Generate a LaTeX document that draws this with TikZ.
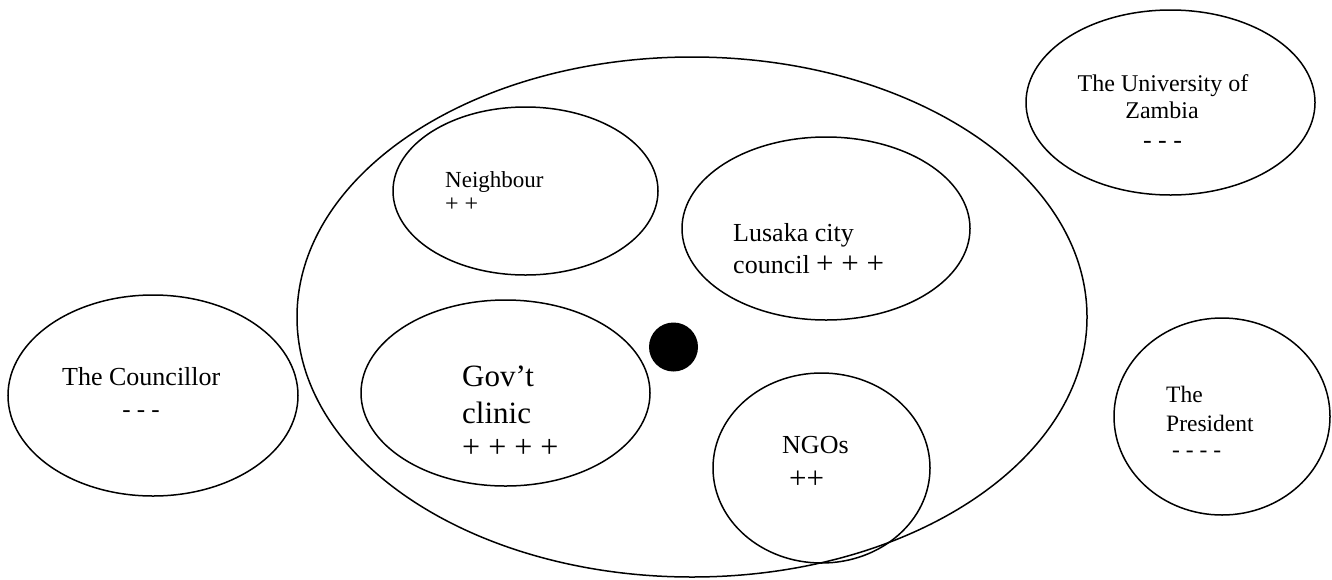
\documentclass[tikz,border=0pt]{standalone}
\usepackage{fontspec}
\setmainfont{Liberation Serif}
\usetikzlibrary{shapes.geometric}
\begin{document}
\begin{tikzpicture}[x=1pt,y=-1pt,
  ell/.style={draw, ellipse, line width=1.5pt, inner sep=0pt},
  lbl/.style={anchor=base west, inner sep=0pt},
  lblc/.style={anchor=base, inner sep=0pt}]
\useasboundingbox (0,0) rectangle (1332,579);
% ellipses
\node[ell, minimum width=790pt, minimum height=520pt] (outer) at (692,317) {};
\node[ell, minimum width=265pt, minimum height=168pt] (neigh) at (525.5,191) {};
\node[ell, minimum width=288pt, minimum height=183pt] (lcc) at (826,228.5) {};
\node[ell, minimum width=289pt, minimum height=186pt] (gov) at (505.5,393) {};
\node[ell, minimum width=217pt, minimum height=190pt] (ngo) at (821.5,468) {};
\node[ell, minimum width=289pt, minimum height=185pt] (unza) at (1170.5,102.5) {};
\node[ell, minimum width=216pt, minimum height=197pt] (pres) at (1222,416.5) {};
\node[ell, minimum width=290pt, minimum height=201pt] (coun) at (153,395.5) {};
\node[circle, fill=black, minimum size=49pt, inner sep=0pt] (ego) at (673.5,347) {};
% labels
\node[lbl, font=\fontsize{23}{27}\selectfont] (neighA) at (445,187) {Neighbour};
\node[lbl, font=\fontsize{24}{27}\selectfont] (neighB) at (445,211) {+ +};
\node[lbl, font=\fontsize{26}{30}\selectfont] (lccA) at (733,241) {Lusaka city};
\node[lbl, font=\fontsize{26}{30}\selectfont] (lccB) at (733,273) {council {\fontsize{31}{34}\selectfont + + +}};
\node[lbl, font=\fontsize{31}{36}\selectfont] (govA) at (462,386) {Gov’t};
\node[lbl, font=\fontsize{31}{36}\selectfont] (govB) at (462,423) {clinic};
\node[lbl, font=\fontsize{32}{36}\selectfont] (govC) at (462,457) {+ + + +};
\node[lbl, font=\fontsize{26}{30}\selectfont] (ngoA) at (782,453) {NGOs};
\node[lbl, font=\fontsize{31}{34}\selectfont] (ngoB) at (789,488) {++};
\node[lblc, font=\fontsize{24}{28}\selectfont] (unzaA) at (1163,91) {The University of};
\node[lblc, font=\fontsize{24}{28}\selectfont] (unzaB) at (1162,118) {Zambia};
\node[lblc, font=\fontsize{26}{30}\selectfont] (unzaC) at (1162.5,148) {- - -};
\node[lbl, font=\fontsize{23.5}{28}\selectfont] (presA) at (1166,402) {The};
\node[lbl, font=\fontsize{23.5}{28}\selectfont] (presB) at (1166,431) {President};
\node[lbl, font=\fontsize{23.5}{28}\selectfont] (presC) at (1172,457.5) {- - - -};
\node[lbl, font=\fontsize{26}{30}\selectfont] (counA) at (62,385) {The Councillor};
\node[lblc, font=\fontsize{25}{30}\selectfont] (counB) at (141,417) {- - -};
\end{tikzpicture}
\end{document}
